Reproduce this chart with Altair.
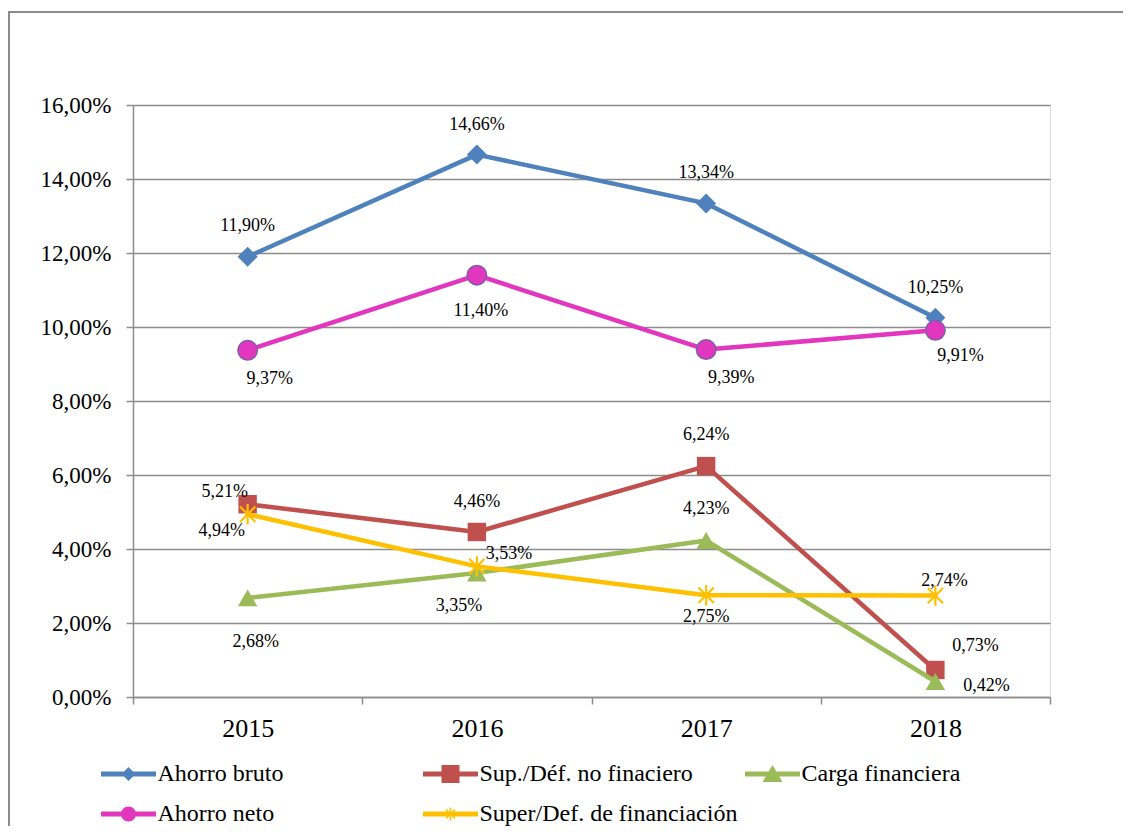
import altair as alt
import pandas as pd

# ---------------- data ----------------
years = ["2015", "2016", "2017", "2018"]
series = [
    "Ahorro bruto",
    "Sup./Déf. no finaciero",
    "Carga financiera",
    "Ahorro neto",
    "Super/Def. de financiación",
]
ahorro_bruto = [11.90, 14.66, 13.34, 10.25]
sup_def_no_financiero = [5.21, 4.46, 6.24, 0.73]
carga_financiera = [2.68, 3.35, 4.23, 0.42]
ahorro_neto = [9.37, 11.40, 9.39, 9.91]
super_def_financiacion = [4.94, 3.53, 2.75, 2.74]
y_ticks = [0, 2, 4, 6, 8, 10, 12, 14, 16]

values_by_series = [ahorro_bruto, sup_def_no_financiero, carga_financiera,
                    ahorro_neto, super_def_financiacion]

rows = []
for s, vals in zip(series, values_by_series):
    for yr, v in zip(years, vals):
        rows.append({"series": s, "year": yr, "value": v})
df = pd.DataFrame(rows)

# ---------------- styles ----------------
FONT = "Liberation Serif"
GRID = "#8c8c8c"
colors = ["#4F81BD", "#C0504D", "#9BBB59", "#E236BF", "#FFC000"]
ASTERISK = "M0,-1V1M-0.75,-0.75L0.75,0.75M-0.75,0.75L0.75,-0.75"
markers = [
    dict(shape="diamond", size=400, filled=True, stroke=None),
    dict(shape="square", size=340, filled=True, stroke=None),
    dict(shape="triangle-up", size=380, filled=True, stroke=None),
    dict(shape="circle", size=380, filled=True, stroke="#7B5FA8"),
    dict(shape=ASTERISK, size=420, filled=False, stroke=None),
]
# label offsets in pixels (dx, dy) per series / per year
label_offsets = [
    [(0, -31), (0, -30), (0, -30), (0, -30)],
    [(-23, -12), (0, -30), (0, -31), (40, -24)],
    [(8, 44), (-18, 33), (0, -31), (51, 5)],
    [(22, 29), (4, 36), (25, 28), (25, 26)],
    [(-26, 17), (32, -12), (0, 22), (9, -15)],
]

LINE = "M-2.75,-0.24H2.75V0.24H-2.75Z"
legend_paths = [
    LINE + "M0,-0.7L0.7,0L0,0.7L-0.7,0Z",
    LINE + "M-0.9,-0.9H0.9V0.9H-0.9Z",
    LINE + "M0,-0.9L1,0.8H-1Z",
    LINE + "M-0.75,0A0.75,0.75,0,1,1,0.75,0A0.75,0.75,0,1,1,-0.75,0Z",
    LINE + "M-0.08,-0.65H0.08V0.65H-0.08Z"
         + "M-0.393,-0.507L0.507,0.393L0.393,0.507L-0.507,-0.393Z"
         + "M0.393,-0.507L0.507,-0.393L-0.393,0.507L-0.507,0.393Z",
]

x_enc = alt.X(
    "year:N", sort=years,
    scale=alt.Scale(type="band", domain=years, paddingInner=0, paddingOuter=0),
    bandPosition=0.5,
    axis=alt.Axis(title=None, labelAngle=0, tickBand="extent", grid=False,
                  labelFont=FONT, labelFontSize=26, labelColor="black",
                  labelPadding=11, tickSize=7, tickColor=GRID, tickWidth=1.5,
                  domainColor=GRID, domainWidth=1.5),
)
y_enc = alt.Y(
    "value:Q",
    scale=alt.Scale(domain=[0, 16], nice=False, zero=True),
    axis=alt.Axis(title=None, values=y_ticks,
                  labelExpr="replace(format(datum.value, '.2f'), '.', ',') + '%'",
                  labelFont=FONT, labelFontSize=23, labelColor="black",
                  labelPadding=15, tickSize=7, tickColor=GRID, tickWidth=1.5,
                  domainColor=GRID, domainWidth=1.5,
                  grid=True, gridColor=GRID, gridWidth=1.5),
)

base = alt.Chart(df)

# outer frame
frame = alt.Chart(alt.Data(values=[{"f": 1}])).mark_rect(
    fill="transparent", stroke=GRID, strokeWidth=2
).encode(x=alt.value(-124), x2=alt.value(1200), y=alt.value(-93), y2=alt.value(900))

layers = [frame]
for i, s in enumerate(series):
    sub = base.transform_filter(alt.datum.series == s)
    layers.append(
        sub.mark_line(color=colors[i], strokeWidth=4.5, strokeJoin="round",
                      strokeCap="round").encode(x=x_enc, y=y_enc)
    )
    m = markers[i]
    pkw = dict(shape=m["shape"], size=m["size"], filled=m["filled"], opacity=1)
    if m["filled"]:
        pkw["fill"] = colors[i]
        if m["stroke"]:
            pkw["stroke"] = m["stroke"]
            pkw["strokeWidth"] = 1.5
        else:
            pkw["strokeWidth"] = 0
    else:
        pkw["stroke"] = colors[i]
        pkw["strokeWidth"] = 2.2
    layers.append(sub.mark_point(**pkw).encode(x=x_enc, y=y_enc))

# data labels
for i, s in enumerate(series):
    for j, yr in enumerate(years):
        dx, dy = label_offsets[i][j]
        layers.append(
            base.transform_filter((alt.datum.series == s) & (alt.datum.year == yr))
            .transform_calculate(lab="replace(format(datum.value, '.2f'), '.', ',') + '%'")
            .mark_text(font=FONT, fontSize=18, color="black", dx=dx, dy=dy,
                       align="center", baseline="middle")
            .encode(x=x_enc, y=y_enc, text="lab:N")
        )

leg = alt.Legend(
    title=None, orient="none", legendX=-34, legendY=657, columns=3,
    direction="horizontal",
    gridAlign="all", columnPadding=5, rowPadding=16, symbolSize=400,
    symbolOffset=17.5, labelOffset=17, labelFont=FONT, labelFontSize=24,
    labelColor="black", labelLimit=500, symbolStrokeWidth=0, padding=0,
    symbolOpacity=1,
)
legend_layer = base.transform_filter("false").mark_point(
    filled=True, opacity=1, size=400
).encode(
    x=x_enc, y=y_enc,
    color=alt.Color("series:N", scale=alt.Scale(domain=series, range=colors), legend=leg),
    shape=alt.Shape("series:N", scale=alt.Scale(domain=series, range=legend_paths), legend=leg),
)
layers.append(legend_layer)

chart = alt.layer(*layers).properties(
    width=917, height=592,
    autosize=alt.AutoSizeParams(type="none"),
    padding={"left": 125, "top": 97, "right": 73, "bottom": 129},
).configure_view(stroke="transparent", strokeWidth=0).configure(
    background="white"
).configure_legend(
    labelFont=FONT, labelFontSize=24, labelColor="black"
)

chart.save("out.html", embed_options={"renderer": "svg", "actions": False})
